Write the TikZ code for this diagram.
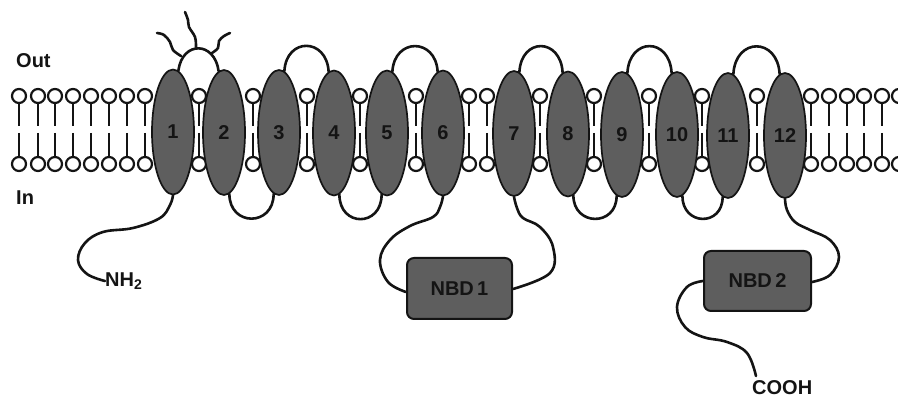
\documentclass[tikz,border=0pt]{standalone}
\usepackage{fontspec}
\setmainfont{Liberation Sans}
\usetikzlibrary{shapes.geometric}
\definecolor{tmfill}{HTML}{5E5E5E}
\definecolor{ink}{HTML}{141414}
\tikzset{
  helix/.style={ellipse,draw=ink,line width=1.7pt,fill=tmfill,minimum width=42pt,minimum height=125pt,inner sep=0pt,
    font=\fontsize{20}{22}\selectfont\bfseries,text=ink},
  nbd/.style={rectangle,rounded corners=7pt,draw=ink,line width=2pt,fill=tmfill,inner sep=0pt,
    font=\fontsize{20}{22}\selectfont\bfseries,text=ink},
  label/.style={font=\fontsize{20}{22}\selectfont\bfseries,text=ink,inner sep=0pt},
  chain/.style={draw=ink,line width=2.6pt,line cap=round},
  stem/.style={draw=ink,line width=2.4pt},
  head/.style={circle,draw=ink,line width=2.2pt,fill=white,minimum size=14pt,inner sep=0pt},
}
\begin{document}
\begin{tikzpicture}[x=1pt,y=-1pt]
\useasboundingbox (0,0) rectangle (898,398);
% lipids
\foreach \x in {19,38,55,73,91,109,127,145,199,253,307,360,416,469,487,540,594,649,702,757,811,829,847,864,882,899}{
  \draw[stem] (\x,100) -- (\x,126);
  \draw[stem] (\x,133) -- (\x,160);
  \node[head] (t\x) at (\x,96) {};
  \node[head] (b\x) at (\x,164) {};
}
% helices
\node[helix] (e1) at (173,132) {1};
\node[helix] (e2) at (224,132.5) {2};
\node[helix] (e3) at (279,132.5) {3};
\node[helix] (e4) at (334,133) {4};
\node[helix] (e5) at (387,133) {5};
\node[helix] (e6) at (443,133) {6};
\node[helix] (e7) at (514,133.5) {7};
\node[helix] (e8) at (568,134) {8};
\node[helix] (e9) at (622,134.5) {9};
\node[helix] (e10) at (677,134.5) {10};
\node[helix] (e11) at (728,135.5) {11};
\node[helix] (e12) at (785,135.5) {12};
% boxes
\node[nbd,minimum width=105pt,minimum height=61pt] (n1) at (459.5,288.5) {NBD\,1};
\node[nbd,minimum width=107pt,minimum height=60pt] (n2) at (757.5,281) {NBD\,2};
% labels
\node[label,anchor=west] (out) at (16,61) {Out};
\node[label,anchor=west] (in) at (16,198) {In};
\node[label,anchor=west] (nh) at (105,281) {NH\textsubscript{2}};
\node[label,anchor=west] (cooh) at (752,388) {COOH};
% outer loops
\draw[chain] (e1.85) .. controls +(4,-30) and +(-4,-30) .. (e2.95);
\draw[chain] (e3.85) .. controls +(2,-34) and +(-2,-34) .. (e4.95);
\draw[chain] (e5.85) .. controls +(2,-34) and +(-2,-34) .. (e6.95);
\draw[chain] (e7.85) .. controls +(2,-35) and +(-2,-35) .. (e8.95);
\draw[chain] (e9.85) .. controls +(2,-36) and +(-2,-36) .. (e10.95);
\draw[chain] (e11.85) .. controls +(2,-37) and +(-2,-37) .. (e12.95);
% inner loops
\draw[chain] (e2.-85) .. controls +(0,33) and +(0,33) .. (e3.-95);
\draw[chain] (e4.-85) .. controls +(0,33) and +(0,33) .. (e5.-95);
\draw[chain] (e8.-85) .. controls +(0,31) and +(0,31) .. (e9.-95);
\draw[chain] (e10.-85) .. controls +(0,30) and +(0,30) .. (e11.-95);
% glycan branches
\coordinate (g0) at (196,47);
\coordinate (g1) at (181,56);
\coordinate (g2) at (212,53);
\draw[chain] plot[smooth,tension=0.6] coordinates {(g0) (195,37) (189,27) (188,20) (185,12)};
\draw[chain] plot[smooth,tension=0.6] coordinates {(g1) (173,50) (170,42) (164,35) (157,33)};
\draw[chain] plot[smooth,tension=0.6] coordinates {(g2) (218,48) (219,41) (224,36) (230,33)};
% tails
\draw[chain] plot[smooth,tension=0.65] coordinates {(e1.south) (170,205) (160,218) (133,228) (103,232) (85,243) (78,260) (87,274) (nh.west)};
\draw[chain] plot[smooth,tension=0.65] coordinates {(e6.south) (440,207) (433,217) (410,226) (390,240) (380,260) (388,282) (n1.west |- 0,292)};
\draw[chain] plot[smooth,tension=0.65] coordinates {(e7.south) (517,208) (523,218) (540,227) (553,247) (550,273) (n1.east |- 0,289)};
\draw[chain] plot[smooth,tension=0.65] coordinates {(e12.south) (787,210) (795,222) (810,230) (830,240) (839,257) (830,275) (n2.east |- 0,282)};
\draw[chain] plot[smooth,tension=0.65] coordinates {(n2.west |- 0,281) (687,287) (677,307) (685,327) (703,337) (727,342) (747,353) (756,376)};
\end{tikzpicture}
\end{document}
